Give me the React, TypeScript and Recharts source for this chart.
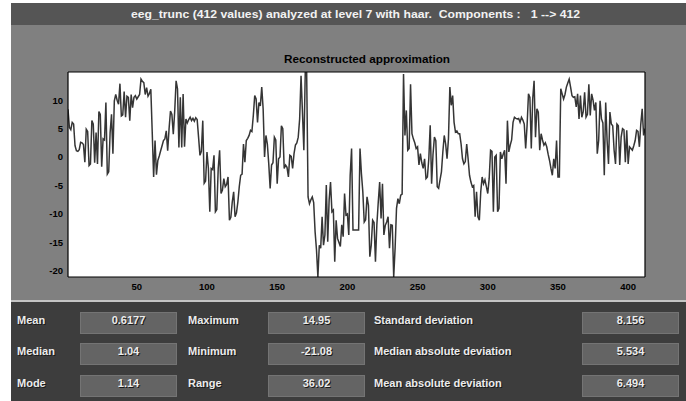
import { CartesianGrid, Line, LineChart, XAxis, YAxis } from "recharts";

// haar approximation of eeg_trunc, samples 1..412, split in four blocks
const approxPart1 = [
  8.4, 5.2, 4.8, 6.1, 5.8, 2.0, 1.1, 1.0, 1.3, 2.6,
  2.5, 2.2, -0.9, 4.9, 4.5, -1.5, -1.2, 6.4, 5.8, -1.0,
  4.3, -1.2, 8.0, 7.5, -1.7, 3.2, 3.0, 9.6, -3.0, -2.6,
  4.3, 7.5, 0.6, 9.9, 11.0, 10.0, 9.3, 12.9, 7.2, 7.4,
  11.5, 7.0, 10.7, 10.5, 6.4, 11.0, 8.7, 10.5, 10.8, 10.2,
  10.6, 11.0, 13.7, 13.3, 13.1, 11.0, 12.2, 10.7, 11.2, 11.9,
  4.3, -3.5, 2.9, -3.1, -0.6, 0.2, 1.1, 2.0, 2.9, 3.2,
  4.6, 1.1, 5.0, 8.1, 7.5, 4.0, 8.0, 13.4, 12.0, 1.7,
  10.5, 1.7, 11.1, 1.8, 6.7, 6.0, 6.6, 7.0, 6.4, 6.8,
  6.3, 6.9, 6.6, 3.5, 0.3, 1.0, 6.4, -4.6, -4.2, 0.9,
  -2.0, -9.6, -2.0,
];

const approxPart2 = [
  -2.2, 0.3, -9.6, -9.2, -2.0, 1.2, -6.4,
  -5.8, -3.8, -5.2, -4.8, -3.5, -11.1, -10.6, -7.9, -6.1, -10.5,
  -9.8, -7.9, -5.2, -3.2, -3.0, 2.3, -0.9, 2.9, 3.3, 3.8,
  4.7, 4.5, 7.3, 10.8, 10.2, 6.1, 9.6, 9.0, 12.3, 8.5,
  0.0, 3.8, 2.3, -1.2, -5.5, -1.4, -1.0, 3.5, 3.0, -4.7,
  -0.3, 0.0, 5.5, 5.0, -2.0, -1.4, -1.8, -3.5, 0.3, 0.1,
  -2.0, 0.6, 2.1, 2.5, 3.5, 6.7, 14.3, 7.9, 1.2, 14.95,
  14.95, -7.0, -8.2, -7.5, -7.0, -8.0, -13.1, -16.3, -21.08, -15.5,
  -16.0, -10.5, -15.5, -13.7, -4.9, -14.9, -7.6, -4.4, -9.6, -9.3,
  -18.4, -11.1, -14.3, -15.0, -15.7, -11.9, -14.0, -6.4, -10.2, -10.0,
  -13.7, -3.2, 1.5, -12.8, -12.8, -12.8,
];

const approxPart3 = [
  -12.8, -12.8, 1.5, -2.9,
  -6.1, -11.4, -11.0, -7.0, -8.5, -17.5, -15.5, -11.1, -11.5, -18.4,
  -11.9, -7.9, -4.4, -10.8, -4.7, -13.7, -12.0, -11.4, -10.5, -16.0,
  -11.9, -12.0, -21.08, -16.0, -9.0, -7.3, -8.2, -6.7, -6.5, 14.6,
  3.8, 8.2, 1.2, 1.5, 12.8, 4.1, 3.2, 2.5, 1.5, 1.8,
  -1.4, 0.6, -1.0, -2.0, -0.3, -3.8, -3.5, -0.3, 5.6, -4.7,
  0.5, 3.5, 2.9, -5.2, -5.5, -4.0, -2.6, 0.9, 3.8, 2.3,
  -0.3, 3.2, 12.3, 9.1, 10.8, 6.1, 4.4, 4.6, 4.1, 4.1,
  2.3, -0.3, -1.2, -0.8, 2.3, -0.3, -3.2, -4.4, -5.2, -5.0,
  -10.5, -6.1, -10.5, -11.1, -6.1, -3.5, -4.7, -4.0, -5.2, -6.4,
  -3.8, 1.2, 1.0, -9.6, 0.0, 0.3, -9.6, -9.0, 0.9,
];

const approxPart4 = [
  -0.3,
  0.5, 1.2, -4.7, 6.4, 0.9, 2.1, 3.0, 6.1, 7.0, 6.8,
  6.7, 6.8, 6.1, 7.0, 6.5, 5.8, 1.5, 5.5, 11.1, 10.5,
  1.5, 10.2, 13.4, 3.5, 8.5, 7.9, 1.2, 4.1, 3.0, 2.1,
  2.5, 1.8, 0.5, -0.6, -2.0, -3.2, -0.3, -2.0, 2.9, -3.5,
  -3.5, 12.0, 11.1, 10.2, 11.0, 12.3, 13.0, 13.7, 12.3, 10.8,
  10.5, 10.6, 8.8, 11.1, 6.7, 10.8, 7.0, 8.0, 11.4, 7.0,
  7.5, 12.8, 7.3, 11.1, 10.0, 8.2, 9.6, 0.6, 2.9, 9.9,
  6.7, 6.0, -3.2, 9.6, 2.9, -1.2, 7.9, 5.8, 5.5, 1.2,
  -1.2, 5.8, 5.5, -1.4, 3.5, 5.0, 4.8, -0.9, 4.7, -1.2,
  1.8, 1.5, 1.2, 2.0, 2.9, 4.7, 4.5, 1.8, 5.8, 8.5,
  3.8, 5.0,
];

const xTicks = [50, 100, 150, 200, 250, 300, 350, 400];
const yTicks = [-20, -15, -10, -5, 0, 5, 10];

const statLabels1 = ["Mean", "Median", "Mode"];
const statValues1 = ["0.6177", "1.04", "1.14"];
const statLabels2 = ["Maximum", "Minimum", "Range"];
const statValues2 = ["14.95", "-21.08", "36.02"];
const statLabels3 = ["Standard deviation", "Median absolute deviation", "Mean absolute deviation"];
const statValues3 = ["8.156", "5.534", "6.494"];

const signal = [...approxPart1, ...approxPart2, ...approxPart3, ...approxPart4];
const data = signal.map((v, i) => ({ n: i + 1, v }));
const xDomain = [1, signal.length];
const yDomain = [Math.min(...signal), Math.max(...signal)];

const FONT = '"Liberation Sans", Arial, sans-serif';
const tickStyle = { fill: "#000", fontSize: 9.5, fontWeight: 700, fontFamily: FONT };

const rowTops = [312, 343, 375];
const columns = [
  { labelX: 17, boxX: 80, labels: statLabels1, values: statValues1 },
  { labelX: 188, boxX: 268, labels: statLabels2, values: statValues2 },
  { labelX: 374, boxX: 582, labels: statLabels3, values: statValues3 },
];

const panelText = {
  position: "absolute" as const,
  color: "#ececec",
  fontFamily: FONT,
  fontWeight: 700,
  fontSize: 11,
  lineHeight: "16px",
  whiteSpace: "nowrap" as const,
  textShadow: "1px 1px 0 #1a1a1a",
};

function StatsPanel() {
  return (
    <div style={{ position: "absolute", left: 11, top: 302, width: 675, height: 99, background: "#3d3d3d" }}>
      {columns.map((col) =>
        col.labels.map((label, r) => (
          <div key={label}>
            <div style={{ ...panelText, left: col.labelX - 11, top: rowTops[r] - 302 }}>{label}</div>
            <div
              style={{
                position: "absolute",
                left: col.boxX - 11,
                top: rowTops[r] - 302,
                width: 97,
                height: 22,
                boxSizing: "border-box",
                background: "#646464",
                border: "1px solid #747474",
              }}
            />
            <div
              style={{
                ...panelText,
                left: col.boxX - 11,
                top: rowTops[r] - 302,
                width: 97,
                textAlign: "center",
              }}
            >
              {col.values[r]}
            </div>
          </div>
        ))
      )}
    </div>
  );
}

export default function App() {
  return (
    <div style={{ position: "absolute", left: 0, top: 0, width: 686, height: 401, background: "#fff", overflow: "hidden" }}>
      <div style={{ position: "absolute", left: 11, top: 3, width: 675, height: 22, background: "#555" }} />
      <div style={{ position: "absolute", left: 11, top: 25, width: 675, height: 275, background: "#808080" }} />
      <div style={{ position: "absolute", left: 11, top: 300, width: 675, height: 2, background: "#c4c4c4" }} />

      <svg width={686} height={80} style={{ position: "absolute", left: 0, top: 0 }}>
        <text
          x={355.5}
          y={17.5}
          textAnchor="middle"
          textLength={449}
          lengthAdjust="spacingAndGlyphs"
          fill="#f2f2f2"
          fontFamily={FONT}
          fontWeight={700}
          fontSize={11}
          style={{ whiteSpace: "pre" }}
        >
          {"eeg_trunc (412 values) analyzed at level 7 with haar.  Components :   1 --> 412"}
        </text>
        <text
          x={367}
          y={62.5}
          textAnchor="middle"
          textLength={166}
          lengthAdjust="spacingAndGlyphs"
          fill="#000"
          fontFamily={FONT}
          fontWeight={700}
          fontSize={10.5}
        >
          Reconstructed approximation
        </text>
      </svg>

      <div style={{ position: "absolute", left: 0, top: 0 }}>
        <LineChart width={686} height={300} data={data} margin={{ top: 72, right: 41, bottom: 0, left: 8 }}>
          <CartesianGrid xAxisId="b" yAxisId="l" horizontal={false} vertical={false} fill="#fff" />
          <XAxis
            xAxisId="b"
            dataKey="n"
            type="number"
            domain={xDomain}
            allowDataOverflow
            ticks={xTicks}
            height={23}
            tickSize={0}
            tickMargin={6}
            tickLine={false}
            axisLine={{ stroke: "#000", strokeWidth: 1.2 }}
            tick={tickStyle}
          />
          <XAxis
            xAxisId="bIn"
            dataKey="n"
            type="number"
            orientation="bottom"
            mirror
            domain={xDomain}
            allowDataOverflow
            ticks={xTicks}
            tick={false}
            tickSize={3}
            axisLine={false}
            tickLine={{ stroke: "#000" }}
          />
          <XAxis
            xAxisId="t"
            dataKey="n"
            type="number"
            orientation="top"
            mirror
            domain={xDomain}
            allowDataOverflow
            ticks={xTicks}
            tick={false}
            tickSize={3}
            axisLine={{ stroke: "#000", strokeWidth: 1.2 }}
            tickLine={{ stroke: "#000" }}
          />
          <YAxis
            yAxisId="l"
            type="number"
            domain={yDomain}
            allowDataOverflow
            ticks={yTicks}
            width={60}
            tickSize={0}
            tickMargin={5}
            tickLine={false}
            axisLine={{ stroke: "#000", strokeWidth: 1.2 }}
            tick={tickStyle}
          />
          <YAxis
            yAxisId="lIn"
            type="number"
            orientation="left"
            mirror
            domain={yDomain}
            allowDataOverflow
            ticks={yTicks}
            tick={false}
            tickSize={3}
            axisLine={false}
            tickLine={{ stroke: "#000" }}
          />
          <YAxis
            yAxisId="r"
            type="number"
            orientation="right"
            mirror
            domain={yDomain}
            allowDataOverflow
            ticks={yTicks}
            tick={false}
            tickSize={3}
            axisLine={{ stroke: "#000", strokeWidth: 1.2 }}
            tickLine={{ stroke: "#000" }}
          />
          <Line
            xAxisId="b"
            yAxisId="l"
            type="linear"
            dataKey="v"
            stroke="#353535"
            strokeWidth={1.5}
            dot={false}
            isAnimationActive={false}
          />
        </LineChart>
      </div>

      <StatsPanel />
    </div>
  );
}
